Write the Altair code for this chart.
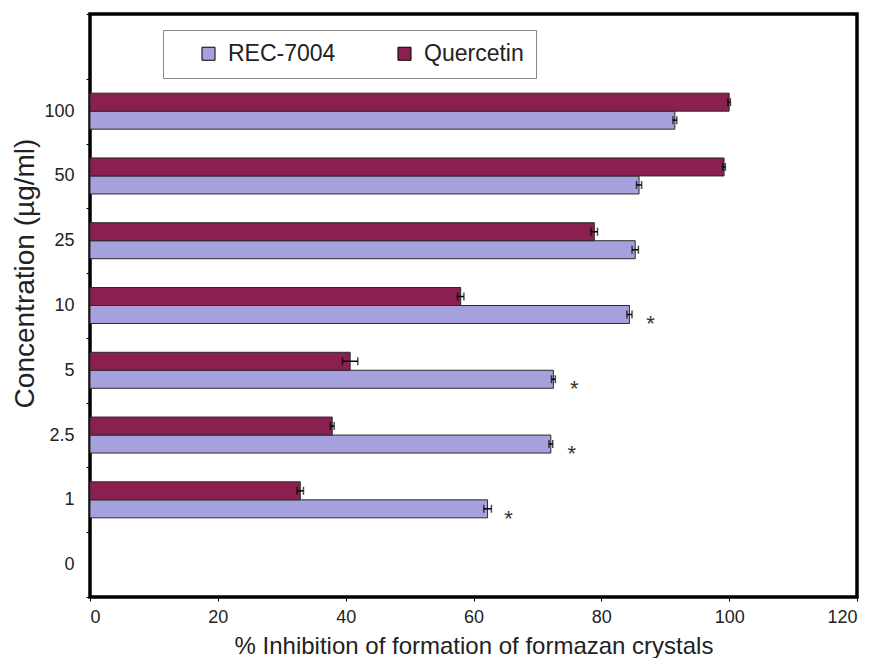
import altair as alt
import pandas as pd

# ---- data ----
concentrations = ["100", "50", "25", "10", "5", "2.5", "1"]
rec_values = [91.5, 85.9, 85.3, 84.4, 72.5, 72.1, 62.2]
rec_errors = [0.3, 0.4, 0.5, 0.4, 0.3, 0.3, 0.6]
quercetin_values = [100.0, 99.2, 78.9, 58.0, 40.7, 37.9, 32.9]
quercetin_errors = [0.2, 0.2, 0.5, 0.5, 1.2, 0.3, 0.5]
significant = [False, False, False, True, True, True, True]

y_categories = ["top", "100", "50", "25", "10", "5", "2.5", "1", "0"]
series = ["REC-7004", "Quercetin"]
series_colors = ["#A4A1DD", "#8B1F4F"]
x_ticks = [0, 20, 40, 60, 80, 100, 120]

rows = []
for i, c in enumerate(concentrations):
    rows.append({"conc": c, "series": "REC-7004", "value": rec_values[i],
                 "lo": rec_values[i] - rec_errors[i], "hi": rec_values[i] + rec_errors[i],
                 "sig": significant[i]})
    rows.append({"conc": c, "series": "Quercetin", "value": quercetin_values[i],
                 "lo": quercetin_values[i] - quercetin_errors[i],
                 "hi": quercetin_values[i] + quercetin_errors[i], "sig": False})
df = pd.DataFrame(rows)

FONT = "Liberation Sans"

y_scale = alt.Scale(domain=y_categories, paddingInner=0, paddingOuter=0)
y_enc = alt.Y(
    "conc:N",
    scale=y_scale,
    axis=alt.Axis(
        title="Concentration (µg/ml)",
        labelExpr="datum.value == 'top' ? '' : datum.value",
        tickBand="extent",
        tickSize=4, tickColor="black", tickWidth=1,
        labelPadding=12, labelFontSize=18, labelColor="#222", labelFont=FONT,
        titleFontSize=28, titleFont=FONT, titleFontWeight="normal", titleColor="#222",
        titleAngle=-90, titleX=-57, titleY=259, titleAlign="center",
        titleBaseline="alphabetic",
        domain=False, grid=False,
    ),
)
yoff_enc = alt.YOffset(
    "series:N",
    scale=alt.Scale(domain=["Quercetin", "REC-7004"], paddingOuter=0.8, paddingInner=0),
)
x_scale = alt.Scale(domain=[0, 120], nice=False, zero=True)
x_axis = alt.Axis(
    title="% Inhibition of formation of formazan crystals",
    values=x_ticks, tickSize=4, tickColor="black", tickWidth=1,
    labelPadding=7, labelFontSize=18, labelColor="#222", labelFont=FONT,
    titleFontSize=24, titleFont=FONT, titleFontWeight="normal", titleColor="#222",
    titleY=56, titleBaseline="alphabetic",
    domain=False, grid=False,
)

base = alt.Chart(df)

bars = base.mark_bar(stroke="#2a2a2a", strokeWidth=1, opacity=1).encode(
    y=y_enc,
    yOffset=yoff_enc,
    x=alt.X("value:Q", scale=x_scale, axis=x_axis),
    color=alt.Color(
        "series:N",
        scale=alt.Scale(domain=series, range=series_colors),
        legend=alt.Legend(
            title=None, orient="none", legendX=73, legendY=16,
            direction="horizontal", strokeColor="#888", fillColor="white",
            padding=12, symbolType="square", symbolSize=170,
            symbolStrokeColor="black", symbolStrokeWidth=1, symbolOpacity=1,
            symbolOffset=22, columnPadding=35, labelOffset=8,
            labelFontSize=23, labelFont=FONT, labelColor="#222",
        ),
    ),
)

err_rule = base.mark_rule(color="black", strokeWidth=1.5).encode(
    y=alt.Y("conc:N", scale=y_scale),
    yOffset=yoff_enc,
    x=alt.X("lo:Q", scale=x_scale),
    x2="hi:Q",
)
cap_lo = base.mark_tick(color="black", thickness=1.5, size=8).encode(
    y=alt.Y("conc:N", scale=y_scale),
    yOffset=yoff_enc,
    x=alt.X("lo:Q", scale=x_scale),
)
cap_hi = base.mark_tick(color="black", thickness=1.5, size=8).encode(
    y=alt.Y("conc:N", scale=y_scale),
    yOffset=yoff_enc,
    x=alt.X("hi:Q", scale=x_scale),
)

stars = base.transform_filter("datum.sig").mark_text(
    text="*", fontSize=22, font=FONT, color="#333", dx=21, dy=10,
    align="center", baseline="middle",
).encode(
    y=alt.Y("conc:N", scale=y_scale),
    yOffset=yoff_enc,
    x=alt.X("value:Q", scale=x_scale),
)

chart = alt.layer(bars, err_rule, cap_lo, cap_hi, stars).properties(
    width=767,
    height=583,
    autosize=alt.AutoSizeParams(type="none"),
    padding={"left": 82, "top": 6, "right": 10, "bottom": 61},
    background="white",
).configure(
    font=FONT,
).configure_view(
    stroke="black", strokeWidth=3.5
)

chart.save("out.html", embed_options={"renderer": "svg", "actions": False})
